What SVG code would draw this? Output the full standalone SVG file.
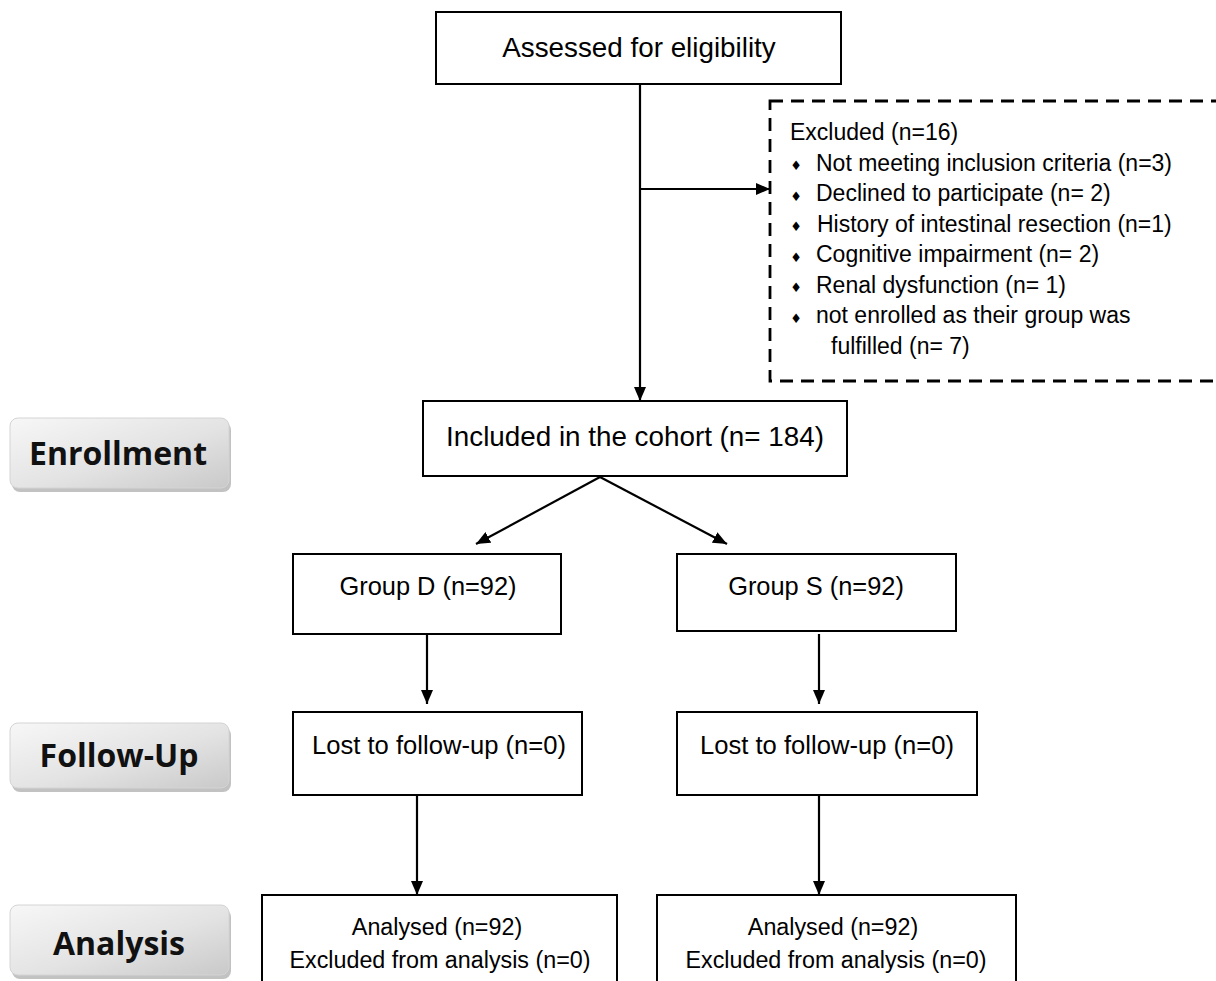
<svg xmlns="http://www.w3.org/2000/svg" width="1216" height="981" viewBox="0 0 1216 981">
<defs>
<style>
.box{fill:#fff;stroke:#000;stroke-width:2}
.t{font-family:"Liberation Sans",Arial,sans-serif;fill:#000}
.c{text-anchor:middle}
.ln{stroke:#000;stroke-width:2.2;fill:none}
.lab{font-family:"Open Sans","Noto Sans",sans-serif;font-weight:bold;font-size:32px;fill:#111;text-anchor:middle}
.btn{fill:url(#g);stroke:#d4d4d4;stroke-width:1}
.sh{fill:#9a9a9a;opacity:0.6}
.bul{font-family:"DejaVu Sans",sans-serif;font-size:13px;text-anchor:middle}
.ex{font-size:23px}
</style>
<linearGradient id="g" x1="0" y1="0" x2="1" y2="1">
<stop offset="0" stop-color="#f7f7f7"/>
<stop offset="0.55" stop-color="#e3e3e3"/>
<stop offset="1" stop-color="#c9c9c9"/>
</linearGradient>
<marker id="a" viewBox="0 0 14 12" refX="14" refY="6" markerWidth="14" markerHeight="12" markerUnits="userSpaceOnUse" orient="auto">
<path d="M0,0 L14,6 L0,12 Z" fill="#000"/>
</marker>
</defs>

<g id="stage-enrollment">
<rect class="sh" x="12" y="422" width="219" height="70" rx="8"/>
<rect class="btn" x="10" y="418" width="219" height="70" rx="8"/>
<text class="lab" x="118" y="465">Enrollment</text>
</g>
<g id="stage-followup">
<rect class="sh" x="12" y="727" width="219" height="65" rx="8"/>
<rect class="btn" x="10" y="723" width="219" height="65" rx="8"/>
<text class="lab" x="119" y="767">Follow-Up</text>
</g>
<g id="stage-analysis">
<rect class="sh" x="12" y="909" width="219" height="70" rx="8"/>
<rect class="btn" x="10" y="905" width="219" height="70" rx="8"/>
<text class="lab" x="119" y="955">Analysis</text>
</g>

<g id="connectors">
<line class="ln" x1="640" y1="84" x2="640" y2="401" marker-end="url(#a)"/>
<line class="ln" x1="640" y1="189" x2="770" y2="189" marker-end="url(#a)"/>
<line class="ln" x1="600" y1="477" x2="476" y2="544" marker-end="url(#a)"/>
<line class="ln" x1="600" y1="477" x2="727" y2="544" marker-end="url(#a)"/>
<line class="ln" x1="427" y1="631" x2="427" y2="704" marker-end="url(#a)"/>
<line class="ln" x1="819" y1="634" x2="819" y2="704" marker-end="url(#a)"/>
<line class="ln" x1="417" y1="795" x2="417" y2="895" marker-end="url(#a)"/>
<line class="ln" x1="819" y1="795" x2="819" y2="895" marker-end="url(#a)"/>
</g>

<g id="assessed">
<rect class="box" x="436" y="12" width="405" height="72"/>
<text class="t c" x="639" y="57" font-size="27.8">Assessed for eligibility</text>
</g>

<g id="excluded">
<rect x="770" y="101" width="470" height="280" fill="#fff" stroke="#000" stroke-width="2.8" stroke-dasharray="13,8"/>
<text class="t ex" x="790" y="140">Excluded (n=16)</text>
<text class="bul" x="796" y="170">♦</text>
<text class="t ex" x="816" y="171">Not meeting inclusion criteria (n=3)</text>
<text class="bul" x="796" y="201">♦</text>
<text class="t ex" x="816" y="201">Declined to participate (n= 2)</text>
<text class="bul" x="796" y="231">♦</text>
<text class="t ex" x="817" y="232">History of intestinal resection (n=1)</text>
<text class="bul" x="796" y="262">♦</text>
<text class="t ex" x="816" y="262">Cognitive impairment (n= 2)</text>
<text class="bul" x="796" y="292">♦</text>
<text class="t ex" x="816" y="293">Renal dysfunction (n= 1)</text>
<text class="bul" x="796" y="323">♦</text>
<text class="t ex" x="816" y="323">not enrolled as their group was</text>
<text class="t ex" x="831" y="354">fulfilled (n= 7)</text>
</g>

<g id="included">
<rect class="box" x="423" y="401" width="424" height="75"/>
<text class="t c" x="635" y="446" font-size="27.8">Included in the cohort (n= 184)</text>
</g>

<g id="groupD">
<rect class="box" x="293" y="554" width="268" height="80"/>
<text class="t c" x="428" y="595" font-size="25.4">Group D (n=92)</text>
</g>
<g id="groupS">
<rect class="box" x="677" y="554" width="279" height="77"/>
<text class="t c" x="816" y="595" font-size="25.4">Group S (n=92)</text>
</g>

<g id="lostD">
<rect class="box" x="293" y="712" width="289" height="83"/>
<text class="t c" x="439" y="754" font-size="25.6">Lost to follow-up (n=0)</text>
</g>
<g id="lostS">
<rect class="box" x="677" y="712" width="300" height="83"/>
<text class="t c" x="827" y="754" font-size="25.6">Lost to follow-up (n=0)</text>
</g>

<g id="analysedD">
<rect class="box" x="262" y="895" width="355" height="100"/>
<text class="t c" x="437" y="935" font-size="23.3">Analysed (n=92)</text>
<text class="t c" x="440" y="968" font-size="23.3">Excluded from analysis (n=0)</text>
</g>
<g id="analysedS">
<rect class="box" x="657" y="895" width="359" height="100"/>
<text class="t c" x="833" y="935" font-size="23.3">Analysed (n=92)</text>
<text class="t c" x="836" y="968" font-size="23.3">Excluded from analysis (n=0)</text>
</g>
</svg>
